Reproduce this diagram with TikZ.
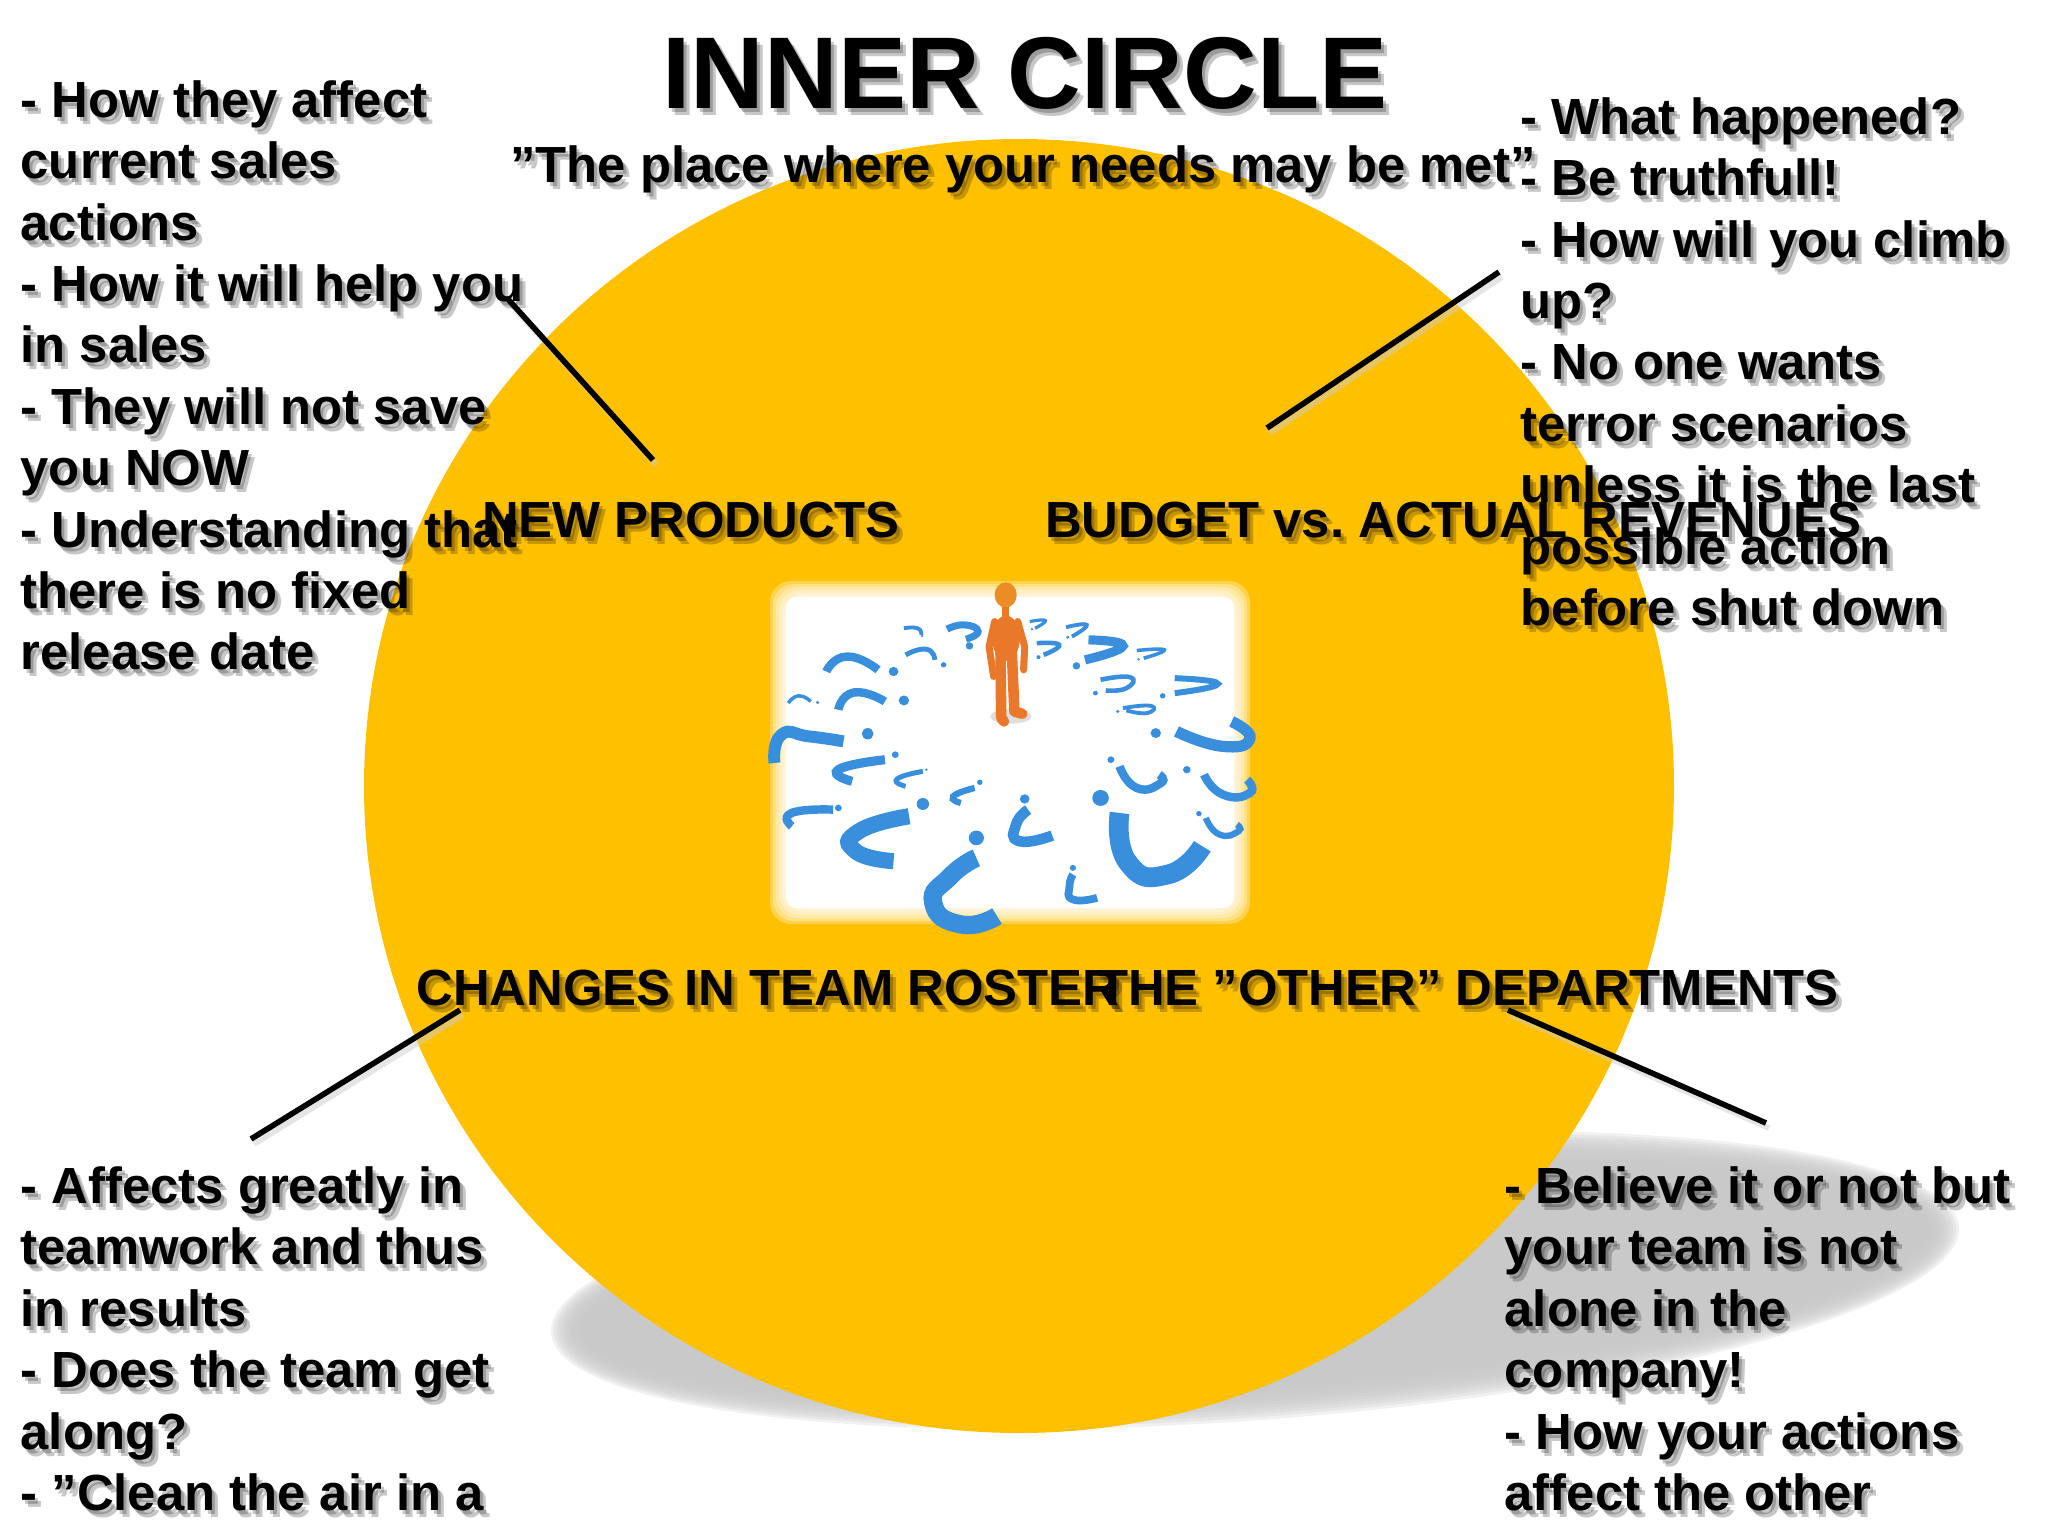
\documentclass[tikz,border=0pt]{standalone}
\usepackage{fontspec}
\setmainfont{Liberation Sans}
\usepackage{tikz}
\usetikzlibrary{calc}
\definecolor{discgold}{HTML}{FFC000}
\definecolor{qblue}{HTML}{3A8FDD}
\definecolor{figorange}{HTML}{E9782A}
\tikzset{
  blocktext/.style={
    anchor=north west,
    inner sep=0pt,
    align=left,
    font=\fontsize{14.45}{17.45}\selectfont\bfseries\frenchspacing},
  labeltext/.style={
    anchor=center,
    inner sep=0pt,
    font=\fontsize{14.45}{17.45}\selectfont\bfseries\frenchspacing},
  titletext/.style={
    anchor=center,
    inner sep=0pt,
    font=\fontsize{29}{32}\selectfont\bfseries},
  softtext/.style={text opacity=0.22},
  leader/.style={draw=black, line width=1.6pt},
  qcurve/.style={draw=qblue, line cap=butt},
  figlimb/.style={draw=figorange, line cap=round, line join=round},
}
\newcommand{\softnode}[4]{%
  \foreach \sx/\sy in {3/4,6/7}{
    \node[#1,softtext] at ($(#3)+(\sx,\sy)$) {#4};
  }
  \node[#1] (#2) at (#3) {#4};
}
\newcommand{\qmark}[4]{%
  \draw[qcurve,line width=#1pt] plot[smooth,tension=1] coordinates {#2};
  \fill[qblue] (#3) circle[radius=#4];
}
\begin{document}
\begin{tikzpicture}[x=0.01cm,y=-0.01cm]
  \useasboundingbox (0,0) rectangle (2048,1536);
  \clip (0,0) rectangle (2048,1536);
  % shadow under the disc
  \foreach \g in {0,...,11}{
    \fill[black!22,opacity=0.25,rotate around={4.3:(1255,1280)}] (1255,1280) ellipse [x radius=706-3*\g,y radius=140-3*\g];
  }
  \fill[discgold] (1019,786) ellipse [x radius=655,y radius=647];
  % picture in the middle
  \foreach \g in {0,...,6}{
    \fill[white,opacity=0.3,rounded corners=6pt] (770+3*\g,581+3*\g) rectangle (1250-3*\g,924-3*\g);
  }
  \fill[white,rounded corners=3pt] (786,597) rectangle (1234,908);
  \begin{scope}[shift={(740,560)},x=0.00345cm,y=-0.00333cm]
    \fill[black!25,opacity=0.5] (785,470) ellipse [x radius=60,y radius=22];
    \draw[figlimb,line width=2pt] (770,130) -- (770,170);
    \draw[figlimb,line width=2pt] (738,185) -- (722,260) -- (735,350);
    \draw[figlimb,line width=2pt] (805,185) -- (825,260) -- (822,330);
    \draw[figlimb,line width=3pt] (755,280) -- (757,470);
    \draw[figlimb,line width=3pt] (788,280) -- (795,450);
    \draw[figlimb,line width=3pt] (757,475) -- (765,485);
    \draw[figlimb,line width=3pt] (795,455) -- (818,462);
    \fill[figorange] (771,235) ellipse [x radius=40,y radius=68];
    \fill[figorange!85!yellow] (770,105) ellipse [x radius=32,y radius=38];
    \qmark{1.1}{(475,205) (515,205) (525,225)}{528,228}{4}
    \qmark{2}{(600,208) (650,195) (690,215) (655,238)}{665,258}{11}
    \qmark{0.9}{(840,185) (885,182) (855,205)}{846,208}{4}
    \qmark{1.1}{(945,202) (1005,195) (962,230)}{950,232}{5}
    \qmark{1.3}{(860,250) (925,255) (880,285)}{865,292}{6}
    \qmark{2.6}{(1010,240) (1110,258) (1000,300)}{975,318}{11}
    \qmark{1}{(1150,272) (1230,270) (1170,295)}{1155,298}{4}
    \qmark{1.4}{(480,285) (540,268) (565,300)}{590,315}{8}
    \qmark{2.4}{(250,335) (310,290) (400,330)}{445,335}{14}
    \qmark{1}{(140,430) (170,408) (205,425)}{225,428}{5}
    \qmark{2.4}{(285,450) (330,398) (420,425)}{475,422}{15}
    \qmark{1.3}{(1045,360) (1130,352) (1120,385) (1060,392)}{1030,400}{7}
    \qmark{1.7}{(1260,355) (1385,372) (1260,400)}{1225,408}{8}
    \qmark{1.1}{(1110,445) (1190,438) (1180,460) (1120,452)}{1095,455}{5}
    \qmark{3.2}{(1265,515) (1400,560) (1478,535) (1425,485)}{1205,520}{15}
    \qmark{3.4}{(100,610) (120,525) (200,530) (300,545)}{370,522}{17}
    \qmark{2.6}{(325,665) (285,630) (420,600)}{450,585}{10}
    \qmark{1.4}{(480,680) (455,658) (530,635)}{540,630}{4}
    \qmark{2.4}{(150,800) (150,760) (270,750)}{285,745}{10}
    \qmark{1.8}{(640,730) (618,710) (680,685)}{695,668}{8}
    \qmark{4.6}{(445,905) (335,875) (345,815) (490,770)}{530,733}{18}
    \qmark{3}{(905,828) (810,845) (800,795) (835,750)}{825,718}{14}
    \qmark{5.6}{(1340,860) (1240,945) (1125,910) (1100,760)}{1045,715}{24}
    \qmark{5.2}{(745,1070) (640,1095) (560,1030) (610,950) (685,895)}{685,835}{22}
    \qmark{2.2}{(1035,1015) (965,1020) (955,980) (965,945)}{965,925}{9}
    \qmark{2.4}{(1100,620) (1150,685) (1220,670) (1215,645)}{1075,600}{10}
    \qmark{2.4}{(1345,645) (1400,705) (1478,700) (1470,660)}{1295,630}{11}
    \qmark{1.8}{(1350,775) (1390,825) (1445,815) (1440,795)}{1330,762}{8}
  \end{scope}
  % leaders
  \coordinate (prodblock) at (507,298);
  \coordinate (prodlabel) at (653,460);
  \coordinate (budgblock) at (1499,272);
  \coordinate (budglabel) at (1267,428);
  \coordinate (rostlabel) at (460,1010);
  \coordinate (rostblock) at (251,1139);
  \coordinate (deptlabel) at (1508,1010);
  \coordinate (deptblock) at (1766,1123);
  \foreach \a/\b in {prodblock/prodlabel,budgblock/budglabel,rostlabel/rostblock,deptlabel/deptblock}{
    \draw[leader,black!20,opacity=0.5] ($(\a)+(3,5)$) -- ($(\b)+(3,5)$);
    \draw[leader] (\a) -- (\b);
  }
  % texts
  \softnode{titletext}{title}{1025,73}{INNER CIRCLE}
  \softnode{labeltext}{motto}{1023,169}{”The place where your needs may be met”}
  \softnode{labeltext}{newprod}{691,520}{NEW PRODUCTS}
  \softnode{labeltext}{budget}{1453,520}{BUDGET vs. ACTUAL REVENUES}
  \softnode{labeltext}{roster}{768,988}{CHANGES IN TEAM ROSTER}
  \softnode{labeltext}{depts}{1468,988}{THE ”OTHER” DEPARTMENTS}
  \softnode{blocktext}{prodnotes}{20,80}{- How they affect\\current sales\\actions\\- How it will help you\\in sales\\- They will not save\\you NOW\\- Understanding that\\there is no fixed\\release date}
  \softnode{blocktext}{budgnotes}{1520,97}{- What happened?\\- Be truthfull!\\- How will you climb\\up?\\- No one wants\\terror scenarios\\unless it is the last\\possible action\\before shut down}
  \softnode{blocktext}{rostnotes}{20,1166}{- Affects greatly in\\teamwork and thus\\in results\\- Does the team get\\along?\\- ”Clean the air in a}
  \softnode{blocktext}{deptnotes}{1504,1166}{- Believe it or not but\\your team is not\\alone in the\\company!\\- How your actions\\affect the other}
\end{tikzpicture}
\end{document}
